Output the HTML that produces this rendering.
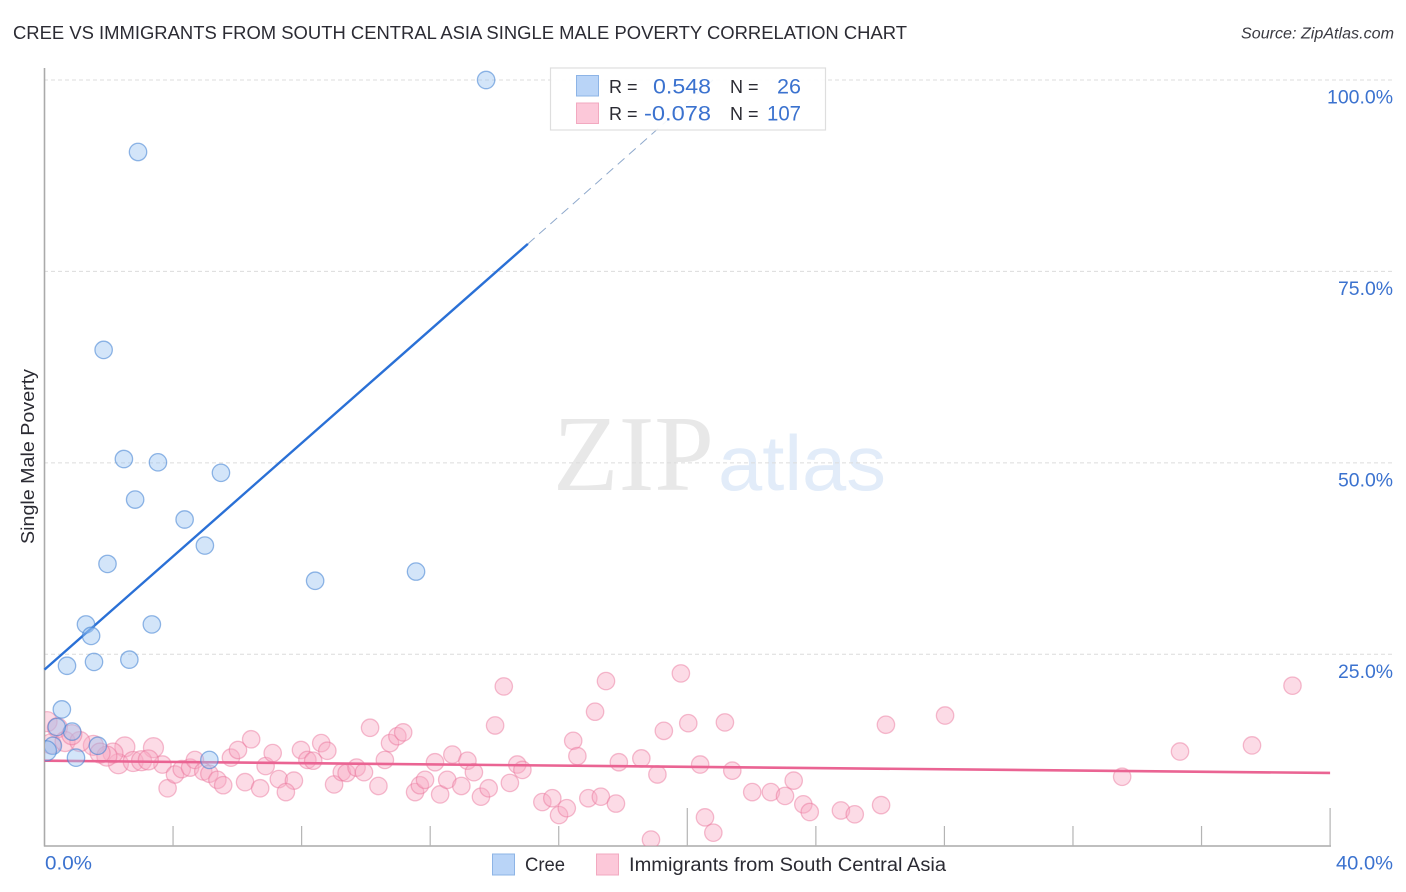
<!DOCTYPE html>
<html lang="en">
<head>
<meta charset="utf-8">
<title>Cree vs Immigrants from South Central Asia Single Male Poverty Correlation Chart</title>
<style>
html,body{margin:0;padding:0;background:#fff;}
body{width:1406px;height:892px;overflow:hidden;}
svg{display:block;font-family:"Liberation Sans",sans-serif;}
</style>
</head>
<body>
<svg id="chart" xmlns="http://www.w3.org/2000/svg" width="1406" height="892" viewBox="0 0 1406 892">
  <defs>
    <clipPath id="plotClip"><rect x="45" y="60" width="1300" height="786"/></clipPath>
  </defs>
  <rect x="0" y="0" width="1406" height="892" fill="#fff"/>
  <text x="13" y="39" font-size="18" fill="#2b2b33" textLength="894" lengthAdjust="spacingAndGlyphs">CREE VS IMMIGRANTS FROM SOUTH CENTRAL ASIA SINGLE MALE POVERTY CORRELATION CHART</text>
  <text x="1241" y="38.5" font-size="15.5" font-style="italic" fill="#3a3a42" textLength="153" lengthAdjust="spacingAndGlyphs">Source: ZipAtlas.com</text>
  <g>
    <text x="553" y="490" font-family="'Liberation Serif',serif" font-size="108" fill="#e8e8e8" textLength="161" lengthAdjust="spacingAndGlyphs">ZIP</text>
    <text x="718" y="490" font-size="78" fill="#e2ecf9" textLength="168" lengthAdjust="spacingAndGlyphs">atlas</text>
  </g>
  <g id="grid"></g>
  <g id="axes"></g>
  <g id="pinkPoints" clip-path="url(#plotClip)"></g>
  <g id="trends"></g>
  <g id="bluePoints" clip-path="url(#plotClip)"></g>
  <text transform="translate(34,456.5) rotate(-90)" font-size="18" fill="#2b2b33" text-anchor="middle" textLength="175" lengthAdjust="spacingAndGlyphs">Single Male Poverty</text>
  <g>
    <rect x="550.5" y="68" width="275" height="62" fill="#fff" fill-opacity="0.9" stroke="#dedede" stroke-width="1.2"/>
    <rect x="576.5" y="75.5" width="22" height="20.5" fill="#b9d4f7" stroke="#8db4e6" stroke-width="1"/>
    <rect x="576.5" y="103" width="22" height="20.5" fill="#fcc8d9" stroke="#f2a9c0" stroke-width="1"/>
    <text x="609" y="93" font-size="18" fill="#2b2b33">R =</text>
    <text x="653" y="93.5" font-size="21" fill="#3b72cf" textLength="58" lengthAdjust="spacingAndGlyphs">0.548</text>
    <text x="730" y="93" font-size="18" fill="#2b2b33">N =</text>
    <text x="777" y="93.5" font-size="21" fill="#3b72cf" textLength="24" lengthAdjust="spacingAndGlyphs">26</text>
    <text x="609" y="120" font-size="18" fill="#2b2b33">R =</text>
    <text x="644" y="120.5" font-size="21" fill="#3b72cf" textLength="67" lengthAdjust="spacingAndGlyphs">-0.078</text>
    <text x="730" y="120" font-size="18" fill="#2b2b33">N =</text>
    <text x="767" y="120.5" font-size="21" fill="#3b72cf" textLength="34" lengthAdjust="spacingAndGlyphs">107</text>
  </g>
  <g>
    <rect x="492.5" y="854" width="22" height="21" fill="#b9d4f7" stroke="#8db4e6" stroke-width="1"/>
    <text x="525" y="871" font-size="19" fill="#2b2b33" textLength="40" lengthAdjust="spacingAndGlyphs">Cree</text>
    <rect x="596.5" y="854" width="22" height="21" fill="#fcc8d9" stroke="#f2a9c0" stroke-width="1"/>
    <text x="629" y="871" font-size="19" fill="#2b2b33" textLength="317" lengthAdjust="spacingAndGlyphs">Immigrants from South Central Asia</text>
  </g>
</svg>
<script>
var yTickValues = [25, 50, 75, 100];
var yTickLabels = ["25.0%", "50.0%", "75.0%", "100.0%"];
var xTickValues = [4, 8, 12, 16, 20, 24, 28, 32, 36, 40];
var xMajorEvery = [20, 40];
var xEndLabels = ["0.0%", "40.0%"];

var creeX = [13.74,2.91,1.84,2.47,3.53,5.49,2.82,4.36,4.99,1.96,8.42,11.56,1.29,3.34,1.45,0.70,1.54,2.64,0.54,0.86,0.38,1.66,0.98,5.13,0.26,0.06];
var creeY = [100,90.6,64.75,50.5,50.07,48.7,45.2,42.6,39.2,36.8,34.6,35.8,28.9,28.9,27.4,23.5,24.0,24.3,17.8,14.9,15.5,13.05,11.5,11.2,13.05,12.4];

var immigrantsX = [0.08,0.40,0.20,0.64,2.50,3.39,3.67,2.30,2.13,1.52,2.76,3.02,3.23,1.94,1.73,1.10,0.85,3.83,4.06,4.27,4.53,4.68,4.94,5.13,5.38,5.56,5.80,6.02,6.43,6.24,6.71,6.88,7.10,7.29,7.76,7.51,7.98,8.18,8.36,8.61,8.80,9.01,9.25,9.40,10.13,10.75,10.98,11.16,10.59,10.39,9.71,9.94,11.53,11.68,11.84,12.15,12.31,12.53,12.69,12.97,13.16,13.36,13.58,13.82,14.02,14.29,14.48,14.71,14.87,15.49,15.80,16.01,16.25,16.45,16.58,16.92,17.31,17.13,17.47,17.78,17.87,18.57,18.87,19.07,19.27,19.80,20.03,20.40,20.55,20.81,21.17,21.40,22.02,22.60,23.04,23.31,23.61,23.81,24.78,25.21,26.03,26.18,28.02,33.53,35.33,37.57,38.83];
var immigrantsY = [16.2,15.4,13.3,13.6,12.9,12.8,10.6,10.7,12.1,13.1,11.0,11.1,11.2,11.7,12.1,13.6,14.5,7.5,9.3,10.0,10.2,11.2,9.7,9.4,8.6,7.9,11.5,12.5,13.9,8.3,7.5,10.4,12.1,8.7,8.5,7.0,12.5,11.2,11.1,13.4,12.4,8.0,9.6,9.5,15.4,13.4,14.3,14.8,11.2,7.8,10.2,9.6,7.0,7.9,8.6,10.9,6.7,8.6,11.9,7.8,11.1,9.6,6.4,7.5,15.7,20.8,8.2,10.6,9.9,5.7,6.2,4.0,4.9,13.7,11.7,6.2,6.4,17.5,21.5,5.5,10.9,11.4,0.8,9.3,15.0,22.5,16.0,10.6,3.7,1.7,16.1,9.8,7.0,7.0,6.5,8.5,5.4,4.4,4.6,4.1,5.3,15.8,17.0,9.0,12.3,13.1,20.9];

var creeTrendX = [0, 15.04];
var creeTrendY = [23, 78.6];
var creeTrendDashEndX = [20.8];
var creeTrendDashEndY = [100];
var immigrantsTrendX = [0, 40];
var immigrantsTrendY = [11.1, 9.5];

var NS = "http://www.w3.org/2000/svg";
function xPos(v) { return 44.5 + v * 32.14; }
function yPos(v) { return 845.7 - v * 7.657; }
function make(parent, tag, attrs) {
  var el = document.createElementNS(NS, tag);
  for (var k in attrs) { el.setAttribute(k, attrs[k]); }
  parent.appendChild(el);
  return el;
}

var grid = document.getElementById("grid");
var axes = document.getElementById("axes");
var pinkGroup = document.getElementById("pinkPoints");
var blueGroup = document.getElementById("bluePoints");
var trends = document.getElementById("trends");

yTickValues.forEach(function (v, i) {
  var line = make(grid, "line", {x1: 44, x2: 1393, y1: yPos(v), y2: yPos(v), stroke: "#dcdcdc", "stroke-width": 1, "stroke-dasharray": "4 3"});
  
  
  var w = yTickLabels[i].length > 5 ? 66 : 55;
  var label = make(axes, "text", {x: 1393 - w, y: yPos(v) + 23.5, "font-size": 19, fill: "#3b72cf", textLength: w, lengthAdjust: "spacingAndGlyphs"});
  
  
  label.textContent = yTickLabels[i];
});

var yAxisLine = make(axes, "line", {x1: 44.5, x2: 44.5, y1: 68, y2: 846.5, stroke: "#aaaaaa", "stroke-width": 1.6});


var xAxisLine = make(axes, "line", {x1: 44, x2: 1331, y1: 846, y2: 846, stroke: "#aaaaaa", "stroke-width": 1.4});



xTickValues.forEach(function (v) {
  var top = xMajorEvery.indexOf(v) >= 0 ? 808 : 826;
  var tick = make(axes, "line", {x1: xPos(v), x2: xPos(v), y1: top, y2: 846, stroke: "#b4b4b4", "stroke-width": 1.2});
  
  
});

var xLabelStart = make(axes, "text", {x: 45, y: 869.5, "font-size": 19, fill: "#3b72cf", textLength: 47, lengthAdjust: "spacingAndGlyphs"});


xLabelStart.textContent = xEndLabels[0];
var xLabelEnd = make(axes, "text", {x: 1336, y: 869.5, "font-size": 19, fill: "#3b72cf", textLength: 57, lengthAdjust: "spacingAndGlyphs"});


xLabelEnd.textContent = xEndLabels[1];

immigrantsX.forEach(function (x, i) {
  var c = make(pinkGroup, "circle", {cx: xPos(x), cy: yPos(immigrantsY[i]), r: x < 3.5 ? 10 : 8.7, fill: "rgba(248,170,196,0.42)", stroke: "rgba(232,110,150,0.45)", "stroke-width": 1.3});
  
  
});

var creeLine = make(trends, "line", {x1: xPos(creeTrendX[0]), y1: yPos(creeTrendY[0]), x2: xPos(creeTrendX[1]), y2: yPos(creeTrendY[1]), stroke: "#2a70d6", "stroke-width": 2.4});


var creeDash = make(trends, "line", {x1: xPos(creeTrendX[1]), y1: yPos(creeTrendY[1]), x2: xPos(creeTrendDashEndX[0]), y2: yPos(creeTrendDashEndY[0]), stroke: "#8fa9cc", "stroke-width": 1, "stroke-dasharray": "9 6"});


var pinkLine = make(trends, "line", {x1: xPos(immigrantsTrendX[0]), y1: yPos(immigrantsTrendY[0]), x2: xPos(immigrantsTrendX[1]), y2: yPos(immigrantsTrendY[1]), stroke: "#ea6493", "stroke-width": 2.6});



creeX.forEach(function (x, i) {
  var c = make(blueGroup, "circle", {cx: xPos(x), cy: yPos(creeY[i]), r: x < 0.1 ? 10 : 8.7, fill: "rgba(150,192,240,0.42)", stroke: "rgba(60,125,210,0.55)", "stroke-width": 1.3});
  
  
});
</script>
</body>
</html>
